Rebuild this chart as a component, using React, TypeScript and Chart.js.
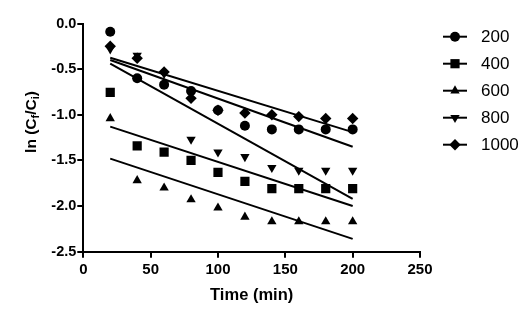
import React, { useEffect, useRef } from "react";
import { Chart, registerables } from "chart.js";
import { drawPoint } from "chart.js/helpers";

Chart.register(...registerables);

const FONT = "'Liberation Sans', Arial, Helvetica, sans-serif";

// Sampling times (min)
const times = [20, 40, 60, 80, 100, 120, 140, 160, 180, 200];

// Series labels (legend)
const seriesLabels = ["200", "400", "600", "800", "1000"];

// ln(Cf/Ci) values
const s200 = [-0.09, -0.6, -0.67, -0.74, -0.95, -1.12, -1.16, -1.16, -1.16, -1.16];
const s400 = [-0.755, -1.34, -1.41, -1.5, -1.63, -1.73, -1.81, -1.81, -1.81, -1.81];
const s600 = [-1.04, -1.72, -1.8, -1.93, -2.02, -2.12, -2.17, -2.17, -2.17, -2.17];
const s800 = [-0.28, -0.35, -0.55, -1.27, -1.41, -1.46, -1.58, -1.61, -1.61, -1.61];
const s1000 = [-0.25, -0.38, -0.53, -0.82, -0.95, -0.98, -1.0, -1.02, -1.04, -1.04];

// Fitted lines (endpoints)
const fitTimes = [20, 200];
const fit200 = [-0.4, -1.35];
const fit400 = [-1.13, -2.0];
const fit600 = [-1.48, -2.36];
const fit800 = [-0.44, -1.92];
const fit1000 = [-0.375, -1.19];

// Axis ticks
const xMin = 0, xMax = 250, xStep = 50;
const yMin = -2.5, yMax = 0, yStep = 0.5;

const seriesValues = [s200, s400, s600, s800, s1000];
const fitValues = [fit200, fit400, fit600, fit800, fit1000];
const markers = [
  { style: "circle", radius: 5, rotation: 0 },
  { style: "rect", radius: 6.5, rotation: 0 },
  { style: "triangle", radius: 5.4, rotation: 0 },
  { style: "triangle", radius: 5.4, rotation: 180 },
  { style: "rectRot", radius: 5.7, rotation: 0 },
];

const legendPlugin = {
  id: "customLegend",
  afterDraw(chart: any) {
    const ctx = chart.ctx;
    ctx.save();
    // Y axis title with subscripts
    ctx.translate(32, 122);
    ctx.rotate(-Math.PI / 2);
    ctx.fillStyle = "#000";
    ctx.textBaseline = "middle";
    ctx.textAlign = "left";
    const big = `bold 15.5px ${FONT}`;
    const small = `bold 11px ${FONT}`;
    const parts: [string, string, number][] = [
      ["ln (C", big, 0],
      ["f", small, 4],
      ["/C", big, 0],
      ["i", small, 4],
      [")", big, 0],
    ];
    let total = 0;
    for (const [t, f] of parts) {
      ctx.font = f;
      total += ctx.measureText(t).width;
    }
    let x = -total / 2;
    for (const [t, f, dy] of parts) {
      ctx.font = f;
      ctx.fillText(t, x, dy);
      x += ctx.measureText(t).width;
    }
    ctx.restore();

    // Legend
    ctx.save();
    seriesLabels.forEach((lab, i) => {
      const y = 36.7 + i * 27;
      ctx.strokeStyle = "#000";
      ctx.lineWidth = 2;
      ctx.beginPath();
      ctx.moveTo(443, y);
      ctx.lineTo(467, y);
      ctx.stroke();
      ctx.fillStyle = "#000";
      drawPoint(
        ctx,
        {
          pointStyle: markers[i].style,
          radius: markers[i].radius,
          rotation: markers[i].rotation,
          borderWidth: 0,
        } as any,
        455,
        y
      );
      ctx.fillStyle = "#000";
      ctx.font = `17px ${FONT}`;
      ctx.textAlign = "left";
      ctx.textBaseline = "middle";
      ctx.fillText(lab, 481, y + 1);
    });
    ctx.restore();
  },
};

export default function App() {
  const ref = useRef<HTMLCanvasElement | null>(null);
  useEffect(() => {
    if (!ref.current) return;
    const datasets: any[] = [];
    seriesValues.forEach((vals, i) => {
      datasets.push({
        label: seriesLabels[i],
        data: times.map((t, j) => ({ x: t, y: vals[j] })),
        showLine: false,
        pointStyle: markers[i].style,
        pointRadius: markers[i].radius,
        pointRotation: markers[i].rotation,
        pointBackgroundColor: "#000",
        pointBorderColor: "#000",
        pointBorderWidth: 0,
      });
    });
    fitValues.forEach((vals, i) => {
      datasets.push({
        label: "fit " + seriesLabels[i],
        data: fitTimes.map((t, j) => ({ x: t, y: vals[j] })),
        showLine: true,
        borderColor: "#000",
        borderWidth: 2,
        pointRadius: 0,
        fill: false,
      });
    });
    const chart = new Chart(ref.current, {
      type: "scatter",
      data: { datasets },
      plugins: [legendPlugin],
      options: {
        responsive: false,
        animation: false,
        devicePixelRatio: 1,
        layout: { padding: { top: 23.5, right: 112, bottom: 0, left: 0 } },
        plugins: { legend: { display: false }, tooltip: { enabled: false } },
        scales: {
          x: {
            type: "linear",
            min: xMin,
            max: xMax,
            ticks: {
              stepSize: xStep,
              color: "#000",
              font: { family: FONT, size: 15, weight: "bold" },
              padding: 3,
              maxRotation: 0,
            },
            grid: {
              display: true,
              drawOnChartArea: false,
              drawTicks: true,
              tickLength: 6,
              color: "#000",
              lineWidth: 2,
            },
            border: { display: true, color: "#000", width: 2 },
            title: {
              display: true,
              text: "Time (min)",
              color: "#000",
              font: { family: FONT, size: 16.5, weight: "bold" },
              padding: { top: 0, bottom: 18 },
            },
            afterFit(s: any) {
              s.height = 71.3;
            },
          },
          y: {
            type: "linear",
            min: yMin,
            max: yMax,
            ticks: {
              stepSize: yStep,
              color: "#000",
              font: { family: FONT, size: 14.5, weight: "bold" },
              padding: 1,
              callback: (v: any) => Number(v).toFixed(1),
            },
            grid: {
              display: true,
              drawOnChartArea: false,
              drawTicks: true,
              tickLength: 6,
              color: "#000",
              lineWidth: 2,
            },
            border: { display: true, color: "#000", width: 2 },
            afterFit(s: any) {
              s.width = 83.3;
            },
          },
        },
      } as any,
    });
    return () => chart.destroy();
  }, []);
  return (
    <div style={{ position: "absolute", left: 0, top: 0, width: 532, height: 323, background: "#fff" }}>
      <canvas ref={ref} width={532} height={323} style={{ width: 532, height: 323 }} />
    </div>
  );
}
